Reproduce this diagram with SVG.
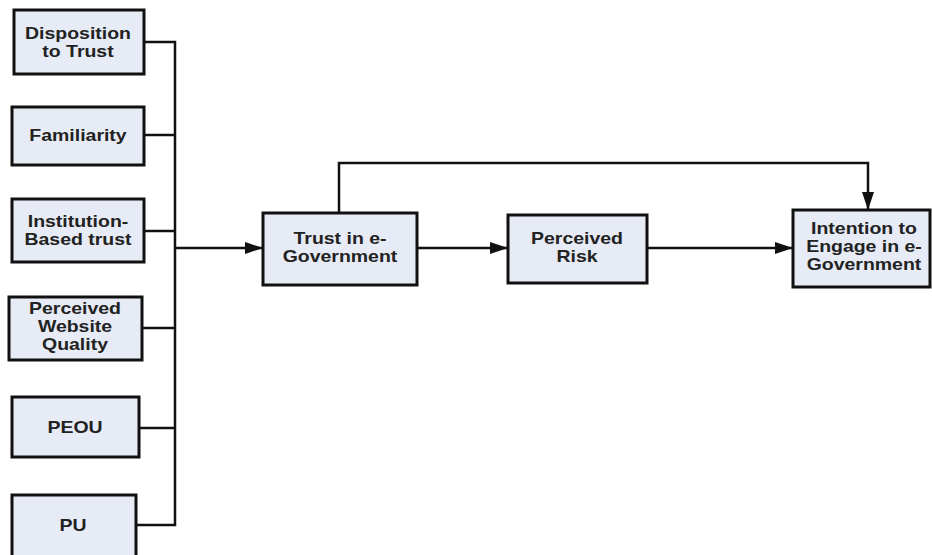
<svg xmlns="http://www.w3.org/2000/svg" width="932" height="555" viewBox="0 0 932 555">
<style>
.box{fill:#e6ebf5;stroke:#111;stroke-width:3}
.t{font-family:"Liberation Sans",Arial,sans-serif;font-weight:bold;font-size:16.5px;fill:#222;text-anchor:middle}
.c{fill:none;stroke:#111;stroke-width:2.5}
</style>
<defs>
<marker id="ah" viewBox="0 0 18 12" refX="18" refY="6" markerWidth="18" markerHeight="12" markerUnits="userSpaceOnUse" orient="auto">
<path d="M0,0 L18,6 L0,12 Z" fill="#111"/>
</marker>
</defs>
<rect width="932" height="555" fill="#fff"/>
<g id="connectors">
<path class="c" d="M144,42 H175 V525 H137"/>
<path class="c" d="M144,135 H175"/>
<path class="c" d="M144,231 H175"/>
<path class="c" d="M142,328 H175"/>
<path class="c" d="M139,428 H175"/>
<path class="c" d="M175,248 H263" marker-end="url(#ah)"/>
<path class="c" d="M417,248 H508" marker-end="url(#ah)"/>
<path class="c" d="M647,248 H793" marker-end="url(#ah)"/>
<path class="c" d="M339,213 V163 H868 V210" marker-end="url(#ah)"/>
</g>
<g id="n1">
<rect class="box" x="14" y="10" width="130" height="64"/>
<text class="t" transform="matrix(1.18 0 0 1 78 0)"><tspan x="0" y="39">Disposition</tspan><tspan x="0" y="57">to Trust</tspan></text>
</g>
<g id="n2">
<rect class="box" x="12" y="107" width="132" height="58"/>
<text class="t" transform="matrix(1.18 0 0 1 78 0)" x="0" y="141">Familiarity</text>
</g>
<g id="n3">
<rect class="box" x="12" y="199" width="132" height="63"/>
<text class="t" transform="matrix(1.18 0 0 1 78 0)"><tspan x="0" y="227">Institution-</tspan><tspan x="0" y="245">Based trust</tspan></text>
</g>
<g id="n4">
<rect class="box" x="9" y="297" width="133" height="63"/>
<text class="t" transform="matrix(1.18 0 0 1 75 0)"><tspan x="0" y="314">Perceived</tspan><tspan x="0" y="332">Website</tspan><tspan x="0" y="350">Quality</tspan></text>
</g>
<g id="n5">
<rect class="box" x="12" y="397" width="127" height="60"/>
<text class="t" transform="matrix(1.18 0 0 1 75 0)" x="0" y="433">PEOU</text>
</g>
<g id="n6">
<rect class="box" x="12" y="495" width="124" height="70"/>
<text class="t" transform="matrix(1.18 0 0 1 73 0)" x="0" y="531">PU</text>
</g>
<g id="n7">
<rect class="box" x="263" y="213" width="154" height="72"/>
<text class="t" transform="matrix(1.18 0 0 1 340 0)"><tspan x="0" y="244">Trust in e-</tspan><tspan x="0" y="262">Government</tspan></text>
</g>
<g id="n8">
<rect class="box" x="508" y="215" width="139" height="68"/>
<text class="t" transform="matrix(1.18 0 0 1 577 0)"><tspan x="0" y="244">Perceived</tspan><tspan x="0" y="262">Risk</tspan></text>
</g>
<g id="n9">
<rect class="box" x="793" y="210" width="137" height="77"/>
<text class="t" transform="matrix(1.18 0 0 1 864 0)"><tspan x="0" y="234">Intention to</tspan><tspan x="0" y="252">Engage in e-</tspan><tspan x="0" y="270">Government</tspan></text>
</g>
</svg>
